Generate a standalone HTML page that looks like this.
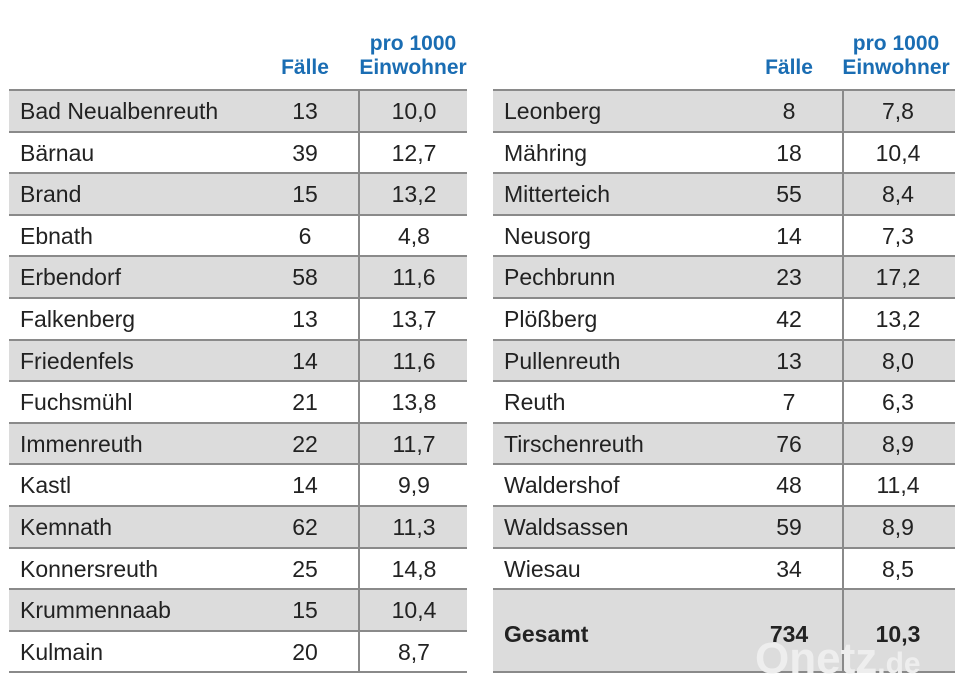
<!DOCTYPE html>
<html><head><meta charset="utf-8"><style>
body{margin:0;width:960px;height:694px;background:#fff;position:relative;overflow:hidden;font-family:"Liberation Sans Narrow","Liberation Sans",sans-serif;color:#222}
.h{position:absolute;color:#1a6db3;font-weight:bold;font-size:21px;text-align:center;line-height:24px}
.t{position:absolute;top:89px;height:584px;border-top:2px solid #8a8a8a}
.r{height:39.6px;border-bottom:2px solid #8a8a8a;position:relative;font-size:23px;line-height:40px}
.g{background:#dcdcdc}
.r span{position:absolute;top:0}
.n{left:11px}
.v{border-left:2px solid #8a8a8a}
.big{height:81px;line-height:88px;font-weight:bold}
</style></head><body>
<div class="h" style="left:270px;top:56px;width:70px">Fälle</div>
<div class="h" style="left:355px;top:32px;width:116px">pro 1000<br>Einwohner</div>
<div class="h" style="left:754px;top:56px;width:70px">Fälle</div>
<div class="h" style="left:838px;top:32px;width:116px">pro 1000<br>Einwohner</div>

<div class="t" style="left:9px;width:458px">
<div class="r g"><span class="n">Bad Neualbenreuth</span><span style="left:276px;width:40px;text-align:center">13</span><span class="v" style="left:349px;width:108px;text-align:center;height:100%">10,0</span></div>
<div class="r"><span class="n">Bärnau</span><span style="left:276px;width:40px;text-align:center">39</span><span class="v" style="left:349px;width:108px;text-align:center;height:100%">12,7</span></div>
<div class="r g"><span class="n">Brand</span><span style="left:276px;width:40px;text-align:center">15</span><span class="v" style="left:349px;width:108px;text-align:center;height:100%">13,2</span></div>
<div class="r"><span class="n">Ebnath</span><span style="left:276px;width:40px;text-align:center">6</span><span class="v" style="left:349px;width:108px;text-align:center;height:100%">4,8</span></div>
<div class="r g"><span class="n">Erbendorf</span><span style="left:276px;width:40px;text-align:center">58</span><span class="v" style="left:349px;width:108px;text-align:center;height:100%">11,6</span></div>
<div class="r"><span class="n">Falkenberg</span><span style="left:276px;width:40px;text-align:center">13</span><span class="v" style="left:349px;width:108px;text-align:center;height:100%">13,7</span></div>
<div class="r g"><span class="n">Friedenfels</span><span style="left:276px;width:40px;text-align:center">14</span><span class="v" style="left:349px;width:108px;text-align:center;height:100%">11,6</span></div>
<div class="r"><span class="n">Fuchsmühl</span><span style="left:276px;width:40px;text-align:center">21</span><span class="v" style="left:349px;width:108px;text-align:center;height:100%">13,8</span></div>
<div class="r g"><span class="n">Immenreuth</span><span style="left:276px;width:40px;text-align:center">22</span><span class="v" style="left:349px;width:108px;text-align:center;height:100%">11,7</span></div>
<div class="r"><span class="n">Kastl</span><span style="left:276px;width:40px;text-align:center">14</span><span class="v" style="left:349px;width:108px;text-align:center;height:100%">9,9</span></div>
<div class="r g"><span class="n">Kemnath</span><span style="left:276px;width:40px;text-align:center">62</span><span class="v" style="left:349px;width:108px;text-align:center;height:100%">11,3</span></div>
<div class="r"><span class="n">Konnersreuth</span><span style="left:276px;width:40px;text-align:center">25</span><span class="v" style="left:349px;width:108px;text-align:center;height:100%">14,8</span></div>
<div class="r g"><span class="n">Krummennaab</span><span style="left:276px;width:40px;text-align:center">15</span><span class="v" style="left:349px;width:108px;text-align:center;height:100%">10,4</span></div>
<div class="r"><span class="n">Kulmain</span><span style="left:276px;width:40px;text-align:center">20</span><span class="v" style="left:349px;width:108px;text-align:center;height:100%">8,7</span></div>
</div>

<div class="t" style="left:493px;width:462px">
<div class="r g"><span class="n">Leonberg</span><span style="left:276px;width:40px;text-align:center">8</span><span class="v" style="left:349px;width:108px;text-align:center;height:100%">7,8</span></div>
<div class="r"><span class="n">Mähring</span><span style="left:276px;width:40px;text-align:center">18</span><span class="v" style="left:349px;width:108px;text-align:center;height:100%">10,4</span></div>
<div class="r g"><span class="n">Mitterteich</span><span style="left:276px;width:40px;text-align:center">55</span><span class="v" style="left:349px;width:108px;text-align:center;height:100%">8,4</span></div>
<div class="r"><span class="n">Neusorg</span><span style="left:276px;width:40px;text-align:center">14</span><span class="v" style="left:349px;width:108px;text-align:center;height:100%">7,3</span></div>
<div class="r g"><span class="n">Pechbrunn</span><span style="left:276px;width:40px;text-align:center">23</span><span class="v" style="left:349px;width:108px;text-align:center;height:100%">17,2</span></div>
<div class="r"><span class="n">Plößberg</span><span style="left:276px;width:40px;text-align:center">42</span><span class="v" style="left:349px;width:108px;text-align:center;height:100%">13,2</span></div>
<div class="r g"><span class="n">Pullenreuth</span><span style="left:276px;width:40px;text-align:center">13</span><span class="v" style="left:349px;width:108px;text-align:center;height:100%">8,0</span></div>
<div class="r"><span class="n">Reuth</span><span style="left:276px;width:40px;text-align:center">7</span><span class="v" style="left:349px;width:108px;text-align:center;height:100%">6,3</span></div>
<div class="r g"><span class="n">Tirschenreuth</span><span style="left:276px;width:40px;text-align:center">76</span><span class="v" style="left:349px;width:108px;text-align:center;height:100%">8,9</span></div>
<div class="r"><span class="n">Waldershof</span><span style="left:276px;width:40px;text-align:center">48</span><span class="v" style="left:349px;width:108px;text-align:center;height:100%">11,4</span></div>
<div class="r g"><span class="n">Waldsassen</span><span style="left:276px;width:40px;text-align:center">59</span><span class="v" style="left:349px;width:108px;text-align:center;height:100%">8,9</span></div>
<div class="r"><span class="n">Wiesau</span><span style="left:276px;width:40px;text-align:center">34</span><span class="v" style="left:349px;width:108px;text-align:center;height:100%">8,5</span></div>
<div class="r g big"><span class="n">Gesamt</span><span style="left:270px;width:52px;text-align:center">734</span><span class="v" style="left:349px;width:108px;text-align:center;height:100%">10,3</span></div>
</div>
<div style="position:absolute;left:755px;top:634px;font-family:'Liberation Sans',sans-serif;font-weight:bold;font-size:44px;color:#eeeeee;line-height:50px">Onetz<span style="font-size:30px">.de</span></div>
</body></html>
